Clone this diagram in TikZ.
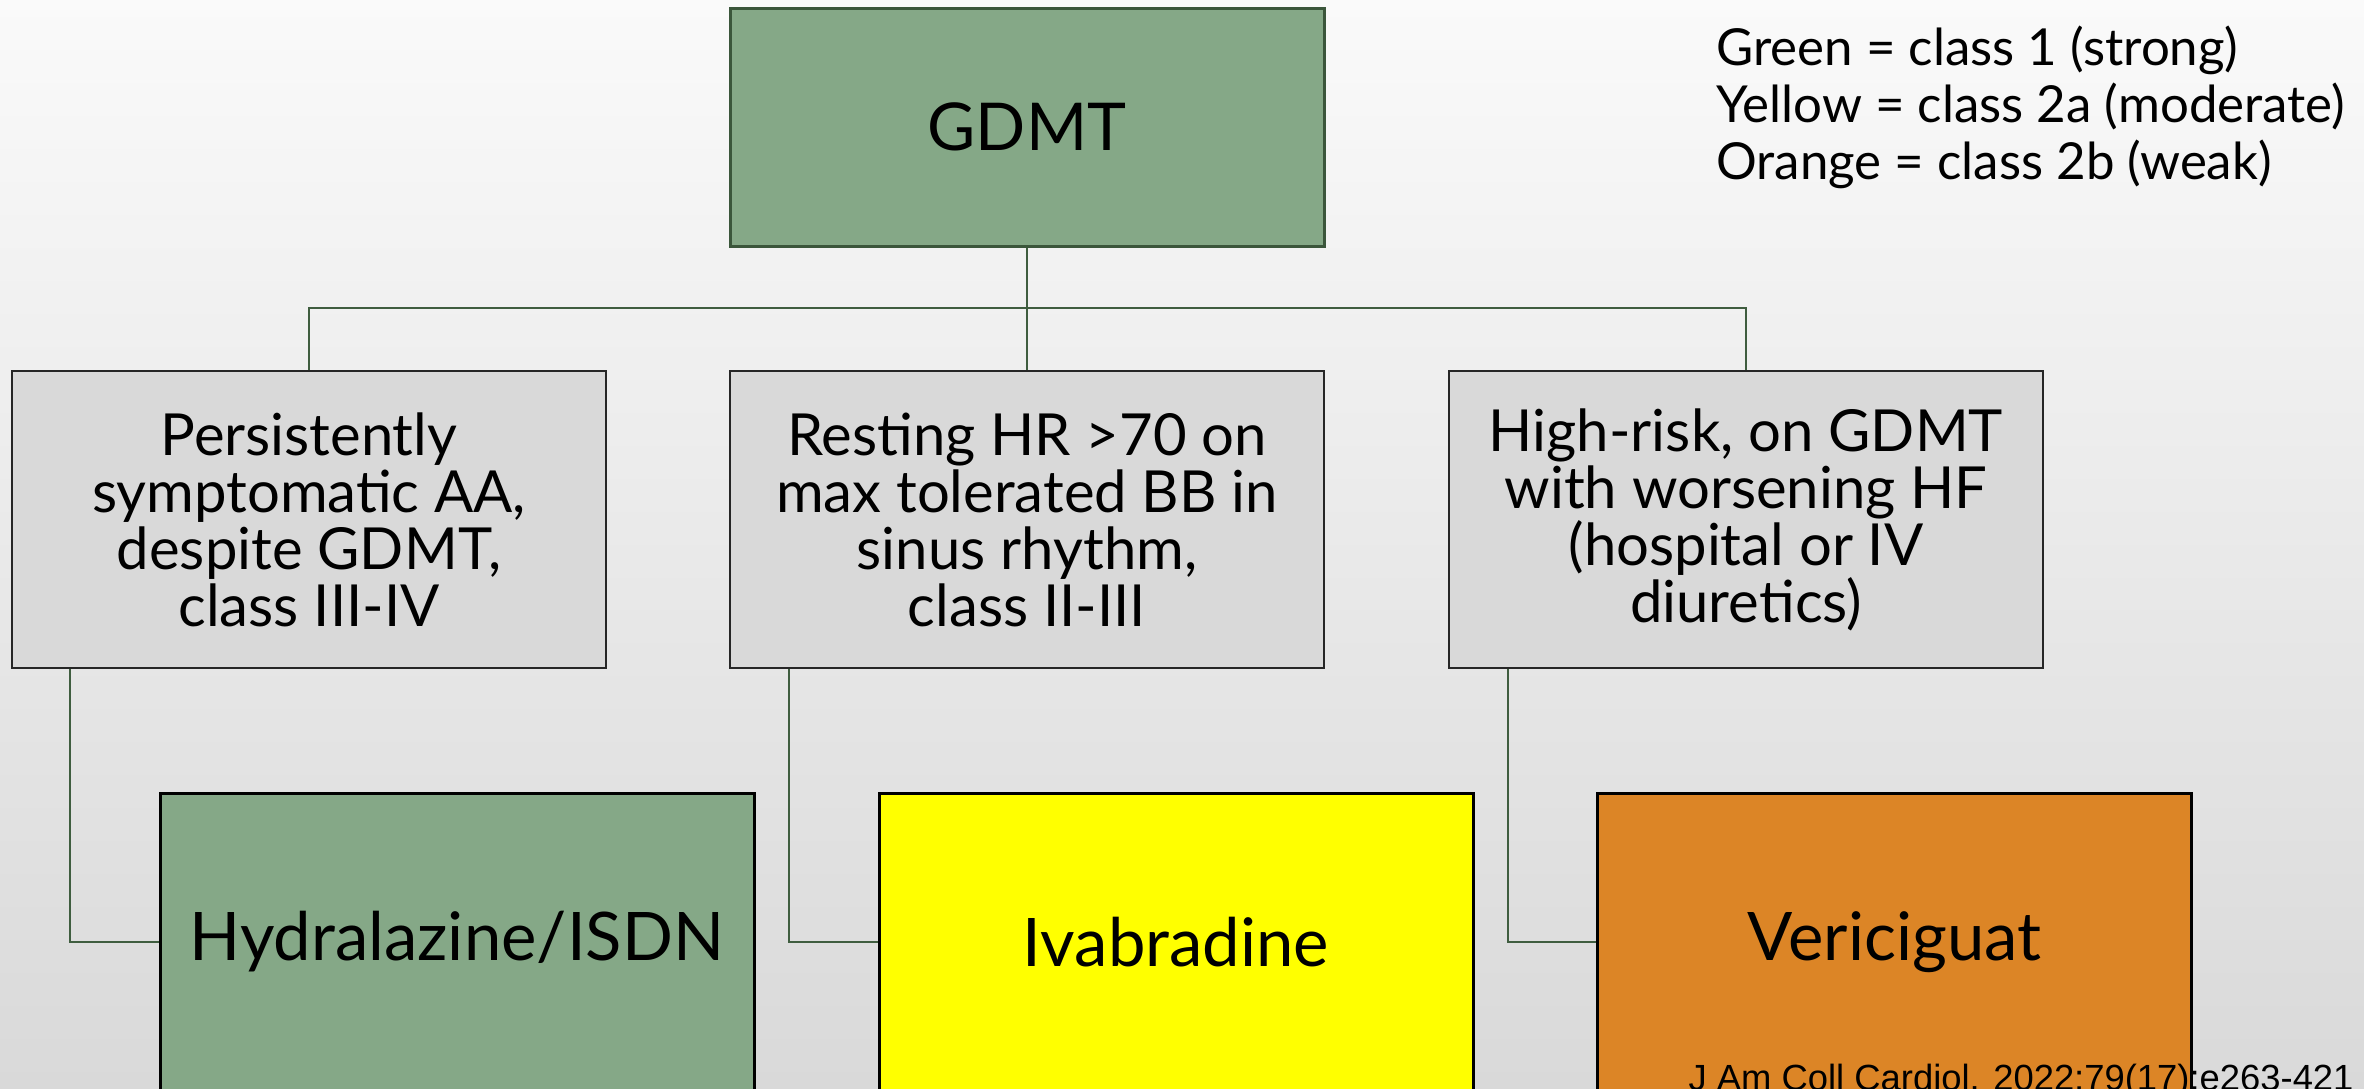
\documentclass[tikz,border=0pt]{standalone}
\usepackage{fontspec}
\setmainfont{Lato}
\newfontfamily\citefont{Liberation Sans}
\definecolor{bgtop}{HTML}{FAFAFA}
\definecolor{bgbot}{HTML}{D9D9D9}
\definecolor{cgreen}{HTML}{85A887}
\definecolor{cgray}{HTML}{D9D9D9}
\definecolor{cyellow}{HTML}{FFFF00}
\definecolor{corange}{HTML}{DC8526}
\definecolor{dgreen}{HTML}{3B563B}
\definecolor{cline}{HTML}{3F5D3F}
\tikzset{
  topbox/.style={draw=dgreen, line width=1.5pt, fill=cgreen, minimum width=297pt, minimum height=119pt, inner sep=0pt, font=\fontsize{33}{40}\selectfont},
  midbox/.style={draw=black!85, line width=1.2pt, fill=cgray, minimum width=297pt, minimum height=148.5pt, inner sep=0pt, align=center, font=\fontsize{29}{28.5}\selectfont},
  botbox/.style={draw=black, line width=1.5pt, minimum width=297pt, minimum height=149pt, inner sep=0pt, font=\fontsize{33.5}{40}\selectfont},
  conn/.style={draw=cline, line width=1pt},
  legtext/.style={anchor=base west, inner sep=0pt, font=\fontsize{25.5}{28.5}\selectfont},
}
\begin{document}
\begin{tikzpicture}[x=0.5pt,y=-0.5pt]
\useasboundingbox (0,0) rectangle (2364,1088);
\clip (0,0) rectangle (2364,1088);
\shade[top color=bgtop, bottom color=bgbot] (0,0) rectangle (2364,1088);

\node[topbox] (gdmt) at (1027,127) {GDMT};

\node[midbox] (ma) at (309,519.5) {Persistently\\symptomatic AA,\\despite GDMT,\\class III-IV};
\node[midbox] (mb) at (1027,519.5) {Resting HR >70 on\\max tolerated BB in\\sinus rhythm,\\class II-III};
\node[midbox] (mc) at (1746,519.5) {High-risk, on GDMT\\with worsening HF\\(hospital or IV\\diuretics)};

\node[botbox, fill=cgreen] (hyd) at (457,942) {Hydralazine/ISDN};
\node[botbox, fill=cyellow] (iva) at (1176,942) {Ivabradine};
\node[botbox, fill=corange] (ver) at (1894.5,942) {Vericiguat};

\draw[conn] (gdmt.south) -- (mb.north);
\draw[conn] (ma.north) -- ++(0,-62) -| (mc.north);
\draw[conn] ([xshift=29.5pt]ma.south west) |- (hyd.west);
\draw[conn] ([xshift=30pt]mb.south west) |- (iva.west);
\draw[conn] ([xshift=30pt]mc.south west) |- (ver.west);

\node[legtext] (l1) at (1716,65) {Green = class 1 (strong)};
\node[legtext] (l2) at (1716,122) {Yellow = class 2a (moderate)};
\node[legtext] (l3) at (1716,179) {Orange = class 2b (weak)};

\node[anchor=base east, inner sep=0pt, font=\citefont\fontsize{18.2}{20}\selectfont] (cite) at (2354,1090) {J Am Coll Cardiol. 2022;79(17):e263-421};
\end{tikzpicture}
\end{document}
